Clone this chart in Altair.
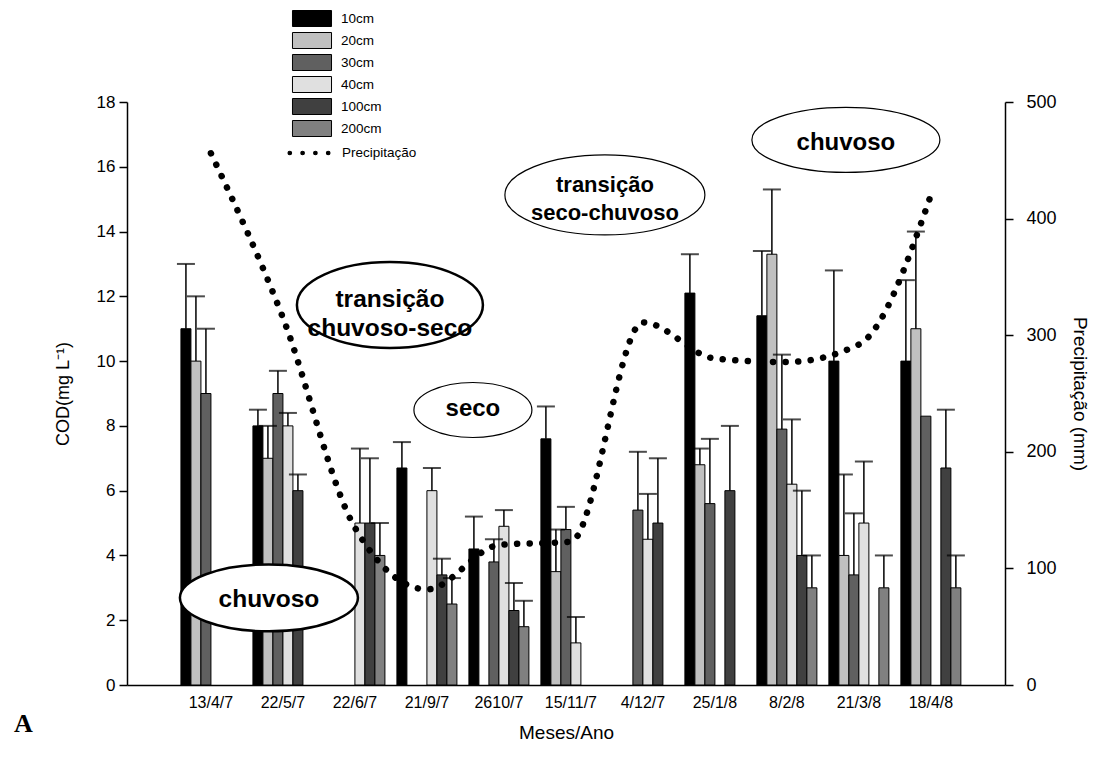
import altair as alt
import pandas as pd

# ---------------- data ----------------
datas = ["13/4/7", "22/5/7", "22/6/7", "21/9/7", "2610/7", "15/11/7",
         "4/12/7", "25/1/8", "8/2/8", "21/3/8", "18/4/8"]
profs = ["10cm", "20cm", "30cm", "40cm", "100cm", "200cm"]
cores = ["#000000", "#c0c0c0", "#606060", "#e0e0e0", "#404040", "#808080"]

# mean COD (mg/L) per depth; None = not sampled
cod_10 = [11.0, 8.0, None, 6.7, 4.2, 7.6, None, 12.1, 11.4, 10.0, 10.0]
cod_20 = [10.0, 7.0, None, None, None, 3.5, None, 6.8, 13.3, 4.0, 11.0]
cod_30 = [9.0, 9.0, None, None, 3.8, 4.8, 5.4, 5.6, 7.9, 3.4, 8.3]
cod_40 = [None, 8.0, 5.0, 6.0, 4.9, 1.3, 4.5, None, 6.2, 5.0, None]
cod_100 = [None, 6.0, 5.0, 3.4, 2.3, None, 5.0, 6.0, 4.0, None, 6.7]
cod_200 = [None, None, 4.0, 2.5, 1.8, None, None, None, 3.0, 3.0, 3.0]

# standard deviation (upper error bar)
sd_10 = [2.0, 0.5, None, 0.8, 1.0, 1.0, None, 1.2, 2.0, 2.8, 2.5]
sd_20 = [2.0, 1.0, None, None, None, 1.3, None, 0.5, 2.0, 2.5, 3.0]
sd_30 = [2.0, 0.7, None, None, 0.7, 0.7, 1.8, 2.0, 2.3, 1.9, None]
sd_40 = [None, 0.4, 2.3, 0.7, 0.5, 0.8, 1.4, None, 2.0, 1.9, None]
sd_100 = [None, 0.5, 2.0, 0.5, 0.85, None, 2.0, 2.0, 2.0, None, 1.8]
sd_200 = [None, None, 1.0, 0.8, 0.8, None, None, None, 1.0, 1.0, 1.0]

# precipitation (mm)
precip = [456, 315, 135, 82, 120, 123, 311, 280, 277, 292, 420]

# season annotations: text, anchor date, y (COD units)
ann_text = ["chuvoso", "transição\nchuvoso-seco", "seco",
            "transição\nseco-chuvoso", "chuvoso"]
ann_cat = ["22/5/7", "22/6/7", "21/9/7", "15/11/7", "8/2/8"]
ann_y = [2.69, 11.73, 8.49, 15.13, 16.83]

# ---------------- build tables ----------------
cods = [cod_10, cod_20, cod_30, cod_40, cod_100, cod_200]
sds = [sd_10, sd_20, sd_30, sd_40, sd_100, sd_200]
rows = []
for p, cl, sl in zip(profs, cods, sds):
    for d, c, s in zip(datas, cl, sl):
        if c is not None:
            rows.append({"data": d, "prof": p, "cod": c,
                         "topo": c + s if s is not None else None})
df = pd.DataFrame(rows)
df_err = df.dropna(subset=["topo"])
df_p = pd.DataFrame({"data": datas, "precip": precip, "serie": "Precipitação"})

FONT = "Liberation Sans"
W, H = 878, 583

xscale = alt.Scale(domain=datas, paddingInner=1 / 6, paddingOuter=0.681, align=0.55)
xoff = alt.XOffset("prof:N", scale=alt.Scale(domain=profs, paddingInner=0, paddingOuter=0))
ysc = alt.Scale(domain=[0, 18], nice=False)

x_enc = alt.X("data:N", scale=xscale, sort=datas,
              axis=alt.Axis(title="Meses/Ano", labelAngle=0, ticks=False,
                            labelFontSize=16, titleFontSize=19, labelPadding=9,
                            titlePadding=13, domainColor="black", domainWidth=1.5,
                            labelColor="black", titleColor="black",
                            titleFontWeight="normal"))

rect_path = "M-2.44,-1H2.44V1H-2.44Z"

bars = alt.Chart(df).mark_bar(stroke="black", strokeWidth=1).encode(
    x=x_enc,
    xOffset=xoff,
    y=alt.Y("cod:Q", scale=ysc,
            axis=alt.Axis(title="COD(mg L⁻¹)", values=list(range(0, 19, 2)),
                          tickSize=8, tickColor="black", tickWidth=1.5,
                          domainColor="black", domainWidth=1.5, grid=False,
                          labelFontSize=17, titleFontSize=18, labelColor="black",
                          titleColor="black", titleFontWeight="normal",
                          labelPadding=4, titlePadding=24)),
    fill=alt.Fill("prof:N", scale=alt.Scale(domain=profs, range=cores),
                  legend=alt.Legend(title=None, orient="none", legendX=176.5,
                                    legendY=-92, padding=0, symbolType=rect_path,
                                    symbolSize=256, symbolStrokeColor="black",
                                    symbolStrokeWidth=1, labelFontSize=13.5,
                                    labelOffset=20.5, rowPadding=1,
                                    labelFont=FONT, labelColor="black")),
)

rules = alt.Chart(df_err).mark_rule(color="black", strokeWidth=1.5).encode(
    x=alt.X("data:N", scale=xscale, sort=datas),
    xOffset=xoff,
    y=alt.Y("cod:Q", scale=ysc),
    y2="topo:Q",
)
caps = alt.Chart(df_err).mark_tick(color="black", thickness=2, size=18,
                                   orient="horizontal").encode(
    x=alt.X("data:N", scale=xscale, sort=datas),
    xOffset=xoff,
    y=alt.Y("topo:Q", scale=ysc),
)

left = alt.layer(bars, rules, caps)

dots = "".join(
    f"M{cx - 0.22:.2f},0a0.22,0.22 0 1,0 0.44,0a0.22,0.22 0 1,0 -0.44,0Z"
    for cx in (-2.4, -0.8, 0.8, 2.4)
)

line = alt.Chart(df_p).mark_line(interpolate="monotone", strokeCap="round").encode(
    x=alt.X("data:N", scale=xscale, sort=datas),
    y=alt.Y("precip:Q", scale=alt.Scale(domain=[0, 500], nice=False),
            axis=alt.Axis(title="Precipitação (mm)", orient="right",
                          values=[0, 100, 200, 300, 400, 500], tickSize=8,
                          tickColor="black", tickWidth=1.5, domainColor="black",
                          domainWidth=1.5, grid=False, labelFontSize=18,
                          titleFontSize=19, labelColor="black", titleColor="black",
                          titleFontWeight="normal", labelPadding=13,
                          titlePadding=13)),
    stroke=alt.Stroke("serie:N", scale=alt.Scale(domain=["Precipitação"], range=["black"]),
                      legend=alt.Legend(title=None, orient="none", legendX=173,
                                        legendY=42, padding=0, symbolType=dots,
                                        symbolSize=256, symbolStrokeColor="black",
                                        symbolFillColor="black",
                                        symbolStrokeWidth=1.2,
                                        labelFontSize=13.5, labelOffset=24,
                                        labelFont=FONT, labelColor="black")),
    strokeDash=alt.value([0.1, 12.5]),
    strokeWidth=alt.value(6.5),
)

# annotation ellipses
ell_w = [178, 186, 118, 200, 188]
ell_h = [67, 86, 55, 80, 65]
ell_sw = [2.5, 2.5, 1.2, 1.2, 1.2]
ell_dx = [-14, 35, 46, 34, 59]
txt_dy = [2, -5, -1, -10, 3]
txt_fs = [24.5, 24.5, 24, 22, 24]

ann_layers = []
for t, c, yv, w, h, sw, dx, dy, fs in zip(ann_text, ann_cat, ann_y, ell_w, ell_h,
                                          ell_sw, ell_dx, txt_dy, txt_fs):
    r = h / w
    path = f"M-1,0A1,{r:.3f} 0 1,1 1,0A1,{r:.3f} 0 1,1 -1,0Z"
    d1 = pd.DataFrame({"data": [c], "y": [yv], "txt": [t]})
    e = alt.Chart(d1).mark_point(shape=path, size=w * w, filled=False, fill="white",
                                 fillOpacity=1, stroke="black", strokeWidth=sw,
                                 opacity=1, xOffset=dx).encode(
        x=alt.X("data:N", scale=xscale, sort=datas),
        y=alt.Y("y:Q", scale=ysc, axis=None),
    )
    tx = alt.Chart(d1).mark_text(font=FONT, fontWeight="bold", fontSize=fs,
                                 lineBreak="\n", lineHeight=28.5, color="black",
                                 align="center", baseline="middle",
                                 xOffset=dx, yOffset=dy).encode(
        x=alt.X("data:N", scale=xscale, sort=datas),
        y=alt.Y("y:Q", scale=ysc, axis=None),
        text="txt:N",
    )
    ann_layers += [e, tx]

panel = alt.Chart(pd.DataFrame({"t": ["A"]})).mark_text(
    font="Liberation Serif", fontWeight="bold", fontSize=26, color="black",
    align="left", baseline="middle").encode(
    x=alt.value(-113), y=alt.value(622), text="t:N")

annot = alt.layer(*ann_layers, panel)

chart = alt.layer(left, line, annot).resolve_scale(
    y="independent", fill="independent", stroke="independent"
).properties(
    width=W, height=H,
    autosize=alt.AutoSizeParams(type="none"),
    padding={"left": 119, "top": 94, "right": 85, "bottom": 62},
).configure(font=FONT).configure_view(stroke=None)

chart.save("out.html", embed_options={"renderer": "svg", "actions": False})
